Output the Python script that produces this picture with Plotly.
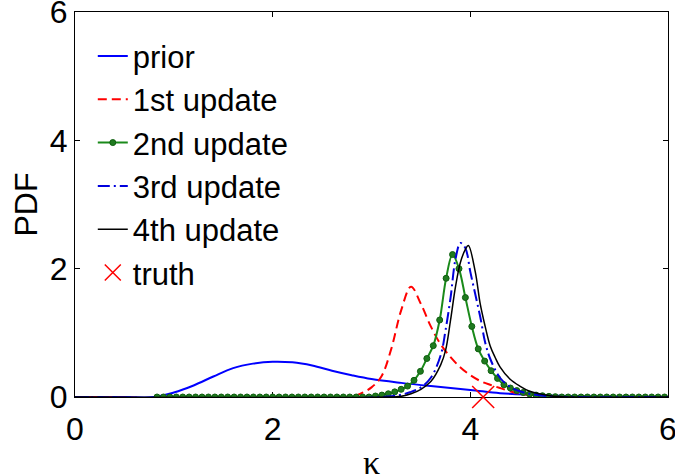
"""Posterior PDF of kappa after successive updates."""

import plotly.graph_objects as go

# prior
prior_x = [0, 0.5, 0.8, 1.0, 1.2, 1.4, 1.6, 1.8, 2.0, 2.2, 2.4, 2.6, 2.8, 3.0, 3.3, 3.6, 4.0, 4.3, 4.6, 5.0, 5.5, 6.0]
prior_y = [0, 0, 0.0, 0.07, 0.18, 0.32, 0.45, 0.52, 0.55, 0.54, 0.49, 0.41, 0.34, 0.28, 0.22, 0.17, 0.11, 0.06, 0.035, 0.015, 0.005, 0.0]

# 1st update
upd1_x = [0, 2.8, 2.9, 3.0, 3.1, 3.2, 3.3, 3.4, 3.5, 3.6, 3.7, 3.8, 3.9, 4.0, 4.1, 4.2, 4.3, 4.5, 5.0, 6.0]
upd1_y = [0, 0.01, 0.06, 0.15, 0.32, 0.75, 1.35, 1.72, 1.45, 1.1, 0.82, 0.62, 0.46, 0.34, 0.25, 0.19, 0.14, 0.05, 0.0, 0]

# 2nd update (sampled with markers)
upd2_x = [round(0.83 + 0.065 * k, 3) for k in range(80)]
upd2_y = [0] * 34 + [
    0.015, 0.03, 0.05, 0.08, 0.12, 0.17, 0.26, 0.4, 0.6, 0.8,
    1.2, 1.85, 2.22, 2.0, 1.55, 1.1, 0.75, 0.56, 0.41, 0.29,
    0.19, 0.14, 0.1, 0.07, 0.045, 0.03, 0.02, 0.01, 0.005,
] + [0] * 17

# 3rd update
upd3_x = [0, 3.2, 3.4, 3.5, 3.6, 3.7, 3.75, 3.8, 3.85, 3.9, 3.95, 4.0, 4.05, 4.1, 4.15, 4.2, 4.3, 4.4, 4.5, 4.6, 4.8, 5.0, 6.0]
upd3_y = [0, 0.01, 0.08, 0.15, 0.3, 0.65, 1.05, 1.55, 2.15, 2.4, 2.32, 1.95, 1.6, 1.25, 0.85, 0.6, 0.3, 0.16, 0.09, 0.05, 0.01, 0, 0]

# 4th update
upd4_x = [0, 3.2, 3.3, 3.4, 3.5, 3.6, 3.7, 3.75, 3.8, 3.85, 3.9, 3.95, 3.98, 4.05, 4.1, 4.15, 4.2, 4.25, 4.3, 4.4, 4.5, 4.6, 4.7, 4.85, 5.0, 6.0]
upd4_y = [0, 0, 0.01, 0.05, 0.12, 0.24, 0.5, 0.73, 1.2, 1.72, 2.1, 2.3, 2.36, 1.95, 1.45, 1.1, 0.8, 0.62, 0.47, 0.28, 0.17, 0.09, 0.05, 0.01, 0, 0]

truth_x = [4.13]
truth_y = [0]

FONT = "Liberation Sans, Arial, Helvetica, sans-serif"

fig = go.Figure()
fig.add_trace(go.Scatter(x=prior_x, y=prior_y, mode="lines", name="prior", legendgroup="a",
                         line={"color": "#0000ff", "width": 2, "shape": "spline"}))
fig.add_trace(go.Scatter(x=upd1_x, y=upd1_y, mode="lines", name="1st update", legendgroup="b",
                         line={"color": "#ff0000", "width": 2, "dash": "9px,5px", "shape": "spline"}))
fig.add_trace(go.Scatter(x=upd2_x, y=upd2_y, mode="lines+markers", name="2nd update", legendgroup="c",
                         line={"color": "#1a8a1a", "width": 2, "shape": "spline"},
                         marker={"size": 6, "color": "#1f7a1f", "line": {"color": "#0f5f0f", "width": 1}}))
fig.add_trace(go.Scatter(x=upd3_x, y=upd3_y, mode="lines", name="3rd update", legendgroup="d",
                         line={"color": "#0000dd", "width": 2, "dash": "12px,4px,2px,4px", "shape": "spline"}))
fig.add_trace(go.Scatter(x=upd4_x, y=upd4_y, mode="lines", name="4th update", legendgroup="e",
                         line={"color": "#000000", "width": 1.5, "shape": "spline"}))
fig.add_trace(go.Scatter(x=truth_x, y=truth_y, mode="markers", name="truth", legendgroup="f", cliponaxis=False,
                         marker={"symbol": "x-thin", "size": 22, "line": {"color": "#ff0000", "width": 1.5}}))

axis_style = dict(
    range=[0, 6], tickvals=[0, 2, 4, 6], ticks="inside", ticklen=5, tickcolor="black",
    showline=True, linecolor="black", linewidth=1, mirror="ticks", showgrid=False, zeroline=False,
    layer="below traces", ticklabeloverflow="allow", automargin=False,
    tickfont={"size": 32, "color": "black", "family": FONT},
)
fig.update_xaxes(**axis_style, ticklabelstandoff=4)
fig.update_yaxes(**axis_style,
                 title={"text": "PDF", "font": {"size": 32, "family": FONT}, "standoff": 2})
fig.add_annotation(text="κ", x=0.5, y=-0.17, xref="paper", yref="paper", showarrow=False,
                   yanchor="middle", font={"size": 34, "family": "Liberation Serif, serif", "color": "black"})
fig.update_layout(
    width=675, height=475,
    template="plotly_white",
    margin={"l": 75, "r": 7, "t": 12, "b": 78, "autoexpand": False},
    font={"family": FONT, "color": "black"},
    legend={"x": 0.03, "y": 0.955, "xanchor": "left", "yanchor": "top", "font": {"size": 31},
            "bgcolor": "rgba(0,0,0,0)", "tracegroupgap": 0},
    showlegend=True,
)
# drop the default body margin so the figure sits at the window's top-left corner
fig.write_html("out.html", config={"displayModeBar": False},
               post_script="document.body.style.margin = '0';")
